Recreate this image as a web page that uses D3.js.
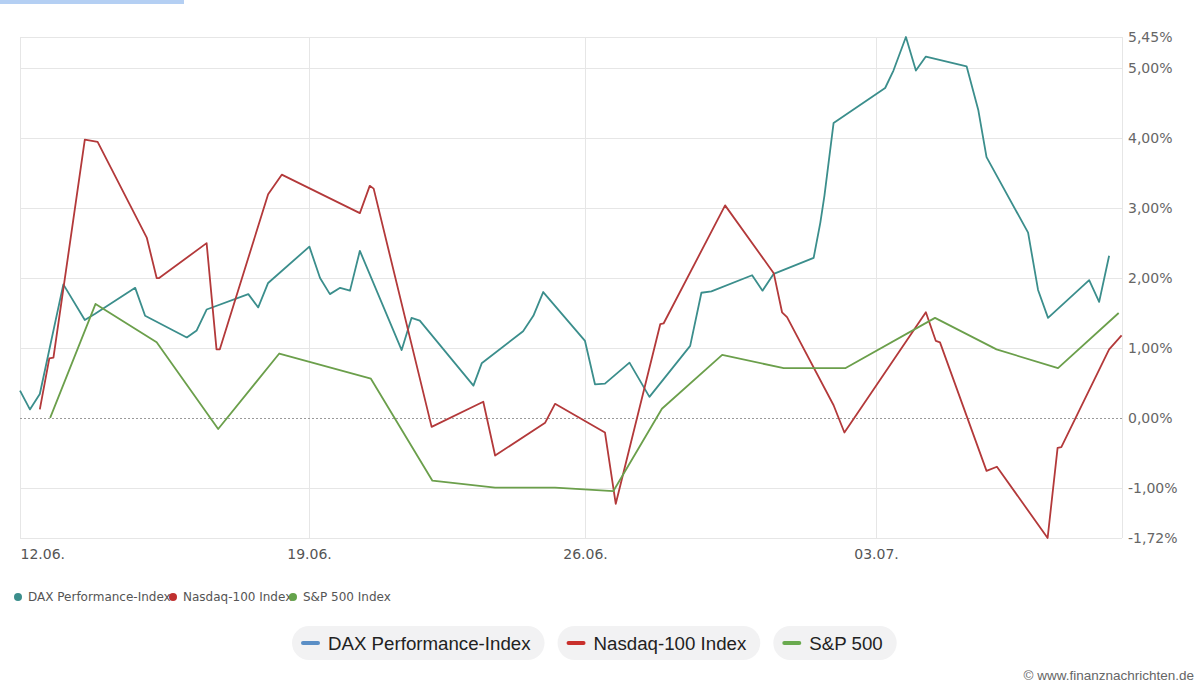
<!DOCTYPE html>
<html>
<head>
<meta charset="utf-8">
<script src="https://cdn.jsdelivr.net/npm/d3@7"></script>
<style>
  html, body { margin: 0; padding: 0; background: #fff; }
  svg { display: block; }
</style>
</head>
<body>
<svg id="chart"></svg>
<script>
// time = days after 12.06.2023 (fractional, intraday), value = change in %
var daxT = [0.00,0.24,0.48,1.05,1.57,1.82,2.79,3.03,4.04,4.28,4.52,5.53,5.77,6.01,7.01,7.28,7.53,7.79,8.04,8.29,
            9.35,9.60,9.81,11.17,11.38,12.43,12.69,12.94,14.00,14.24,14.48,15.07,15.55,16.53,16.80,17.04,18.02,18.27,18.54,
            19.50,19.66,19.76,19.98,21.22,21.42,21.72,21.96,22.20,23.18,23.46,23.66,24.66,24.90,25.14,26.13,26.37,26.61];
var daxV = [0.39,0.12,0.34,1.91,1.40,1.49,1.86,1.46,1.15,1.25,1.55,1.77,1.58,1.93,2.45,2.00,1.77,1.86,1.82,2.39,
            0.97,1.43,1.39,0.46,0.78,1.24,1.46,1.80,1.10,0.48,0.49,0.79,0.30,1.03,1.79,1.81,2.04,1.82,2.06,
            2.29,2.79,3.18,4.22,4.72,4.97,5.45,4.97,5.17,5.03,4.41,3.73,2.65,1.83,1.43,1.97,1.66,2.32];

var ndqT = [0.48,0.71,0.81,1.57,1.88,3.07,3.31,3.37,4.52,4.76,4.84,6.01,6.34,8.29,8.54,8.64,10.11,11.42,11.72,12.99,
            13.24,14.48,14.74,15.81,15.89,17.37,18.54,18.74,18.86,19.98,20.24,22.20,22.44,22.54,23.66,23.91,25.13,25.37,25.46,26.61,26.91];
var ndqV = [0.12,0.85,0.86,3.98,3.95,2.58,2.00,2.00,2.50,0.98,0.98,3.20,3.48,2.93,3.32,3.28,-0.13,0.23,-0.54,-0.07,
            0.20,-0.21,-1.23,1.34,1.35,3.04,2.07,1.51,1.44,0.18,-0.21,1.51,1.10,1.08,-0.76,-0.70,-1.72,-0.43,-0.42,0.98,1.18];

var spxT = [0.73,1.83,3.31,4.80,6.28,8.57,10.13,11.72,13.24,14.68,15.85,17.30,18.78,20.26,22.42,23.90,25.38,26.84];
var spxV = [0.00,1.63,1.08,-0.16,0.92,0.56,-0.90,-1.00,-1.00,-1.05,0.13,0.90,0.71,0.71,1.43,0.98,0.71,1.50];

var seriesNames = ["DAX Performance-Index", "Nasdaq-100 Index", "S&P 500 Index"];
var buttonNames = ["DAX Performance-Index", "Nasdaq-100 Index", "S&P 500"];
var xTickDays = [0, 7, 14, 21];
var lastDay = 26.92;
var yTicks = [-1.72, -1, 0, 1, 2, 3, 4, 5, 5.45];

var w = 1200, h = 689;
var lineColors = ["#3b8e8c", "#b3393a", "#6b9f4b"];
var dotColors = ["#3b8e8c", "#c0302f", "#64a34b"];
var buttonColors = ["#5b8fc6", "#c9302c", "#6aaa4f"];

var base = new Date(2023, 5, 12);
function toDate(d) { return new Date(base.getTime() + d * 864e5); }

var svg = d3.select("#chart").attr("width", w).attr("height", h);

// thin blue bar top left
svg.append("rect").attr("x", 0).attr("y", 0).attr("width", 184).attr("height", 4).attr("fill", "#b4cff3");

// the axis is spaced by data points, so the weeks are not all the same width
var xScale = d3.scaleTime()
  .domain([0, 7, 14, 21, lastDay].map(toDate))
  .range([20, 309, 585, 876, 1122]);
var yScale = d3.scaleLinear()
  .domain([-1.72, 5.45])
  .range([538, 37]);

var de = d3.formatLocale({ decimal: ",", thousands: ".", grouping: [3], currency: ["", "€"], minus: "-" });
var fmt = de.format(".2f");

// grid
var grid = svg.append("g");
grid.selectAll(".hgrid")
  .data(yTicks.filter(function (d) { return d !== 0; }))
  .enter().append("line")
  .attr("x1", xScale.range()[0]).attr("x2", xScale.range()[4])
  .attr("y1", function (d) { return Math.round(yScale(d)) + 0.5; })
  .attr("y2", function (d) { return Math.round(yScale(d)) + 0.5; })
  .attr("stroke", "#e6e6e6").attr("stroke-width", 1);
grid.selectAll(".vgrid")
  .data(xTickDays.concat([lastDay]))
  .enter().append("line")
  .attr("x1", function (d) { return Math.round(xScale(toDate(d))) + 0.5; })
  .attr("x2", function (d) { return Math.round(xScale(toDate(d))) + 0.5; })
  .attr("y1", yScale(5.45)).attr("y2", yScale(-1.72))
  .attr("stroke", "#e6e6e6").attr("stroke-width", 1);
grid.append("line")
  .attr("x1", xScale.range()[0]).attr("x2", xScale.range()[4])
  .attr("y1", Math.round(yScale(0)) + 0.5).attr("y2", Math.round(yScale(0)) + 0.5)
  .attr("stroke", "#9a9a9a").attr("stroke-width", 1).attr("stroke-dasharray", "2,2");

// axes
var xAxis = d3.axisBottom(xScale)
  .tickValues(xTickDays.map(toDate))
  .tickFormat(d3.timeFormat("%d.%m."))
  .tickSize(0).tickPadding(11);
var gx = svg.append("g")
  .attr("transform", "translate(0," + yScale(-1.72) + ")")
  .call(xAxis);
gx.select(".domain").remove();
gx.selectAll("text")
  .attr("font-family", "DejaVu Sans").attr("font-size", 14).attr("fill", "#555")
  .attr("text-anchor", function (d, i) { return i === 0 ? "start" : "middle"; });

var yAxis = d3.axisRight(yScale)
  .tickValues(yTicks)
  .tickFormat(function (d) { return fmt(d) + "%"; })
  .tickSize(0).tickPadding(6);
var gy = svg.append("g")
  .attr("transform", "translate(" + xScale.range()[4] + ",0)")
  .call(yAxis);
gy.select(".domain").remove();
gy.selectAll("text")
  .attr("font-family", "DejaVu Sans").attr("font-size", 14).attr("fill", "#666");

// lines
var line = d3.line()
  .x(function (d) { return xScale(toDate(d[0])); })
  .y(function (d) { return yScale(d[1]); });
var series = [d3.zip(daxT, daxV), d3.zip(ndqT, ndqV), d3.zip(spxT, spxV)];
series.forEach(function (s, i) {
  svg.append("path")
    .datum(s)
    .attr("d", line)
    .attr("fill", "none")
    .attr("stroke", lineColors[i])
    .attr("stroke-width", 1.8)
    .attr("stroke-linejoin", "round");
});

// small legend
var smallX = [18, 173, 293];
var sl = svg.append("g");
seriesNames.forEach(function (n, i) {
  sl.append("circle").attr("cx", smallX[i]).attr("cy", 597).attr("r", 4).attr("fill", dotColors[i]);
  sl.append("text").attr("x", smallX[i] + 10).attr("y", 597).attr("dy", "0.35em")
    .attr("font-family", "DejaVu Sans").attr("font-size", 12).attr("fill", "#555")
    .text(n);
});

// legend buttons
var bx = 292;
buttonNames.forEach(function (n, i) {
  var g = svg.append("g");
  var rect = g.append("rect").attr("x", bx).attr("y", 626).attr("height", 34).attr("rx", 17).attr("fill", "#f2f2f3");
  g.append("line").attr("x1", bx + 11).attr("x2", bx + 26).attr("y1", 643).attr("y2", 643)
    .attr("stroke", buttonColors[i]).attr("stroke-width", 4).attr("stroke-linecap", "round");
  var t = g.append("text").attr("x", bx + 36).attr("y", 643).attr("dy", "0.35em")
    .attr("font-family", "Liberation Sans, Arial, sans-serif").attr("font-size", 18.7).attr("fill", "#222")
    .text(n);
  var bw = 36 + t.node().getComputedTextLength() + 14;
  rect.attr("width", bw);
  bx += bw + 13;
});

// credit
svg.append("text").attr("x", 1194).attr("y", 675).attr("dy", "0.35em").attr("text-anchor", "end")
  .attr("font-family", "Liberation Sans, Arial, sans-serif").attr("font-size", 13.5).attr("fill", "#666")
  .text("© www.finanznachrichten.de");
</script>
</body>
</html>
